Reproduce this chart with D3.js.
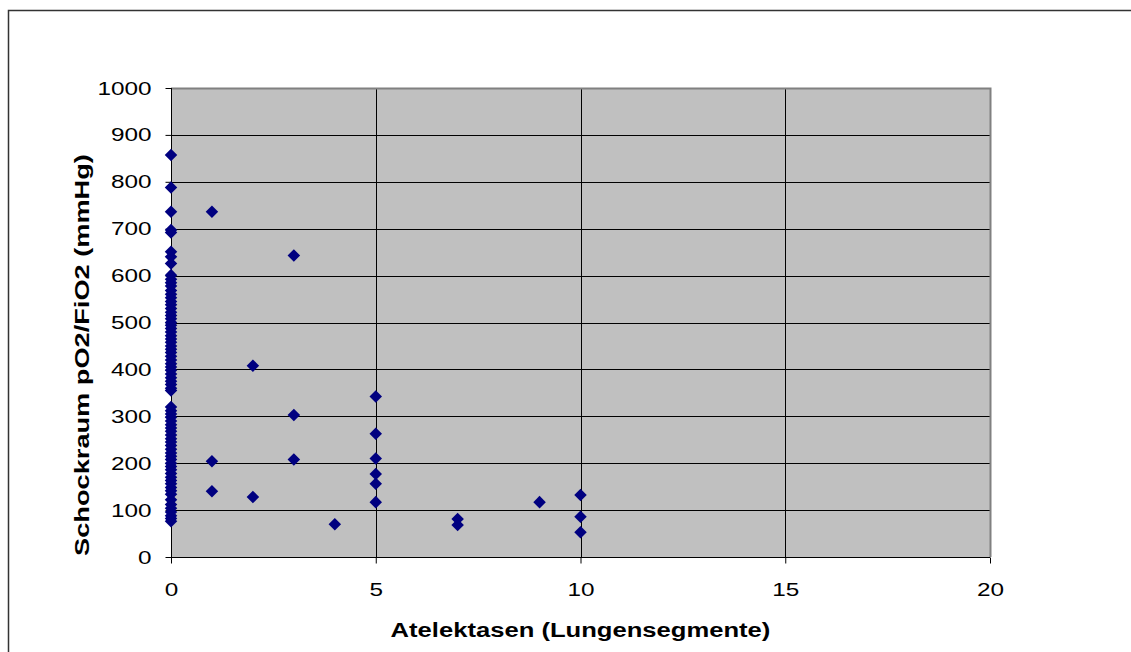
<!DOCTYPE html>
<html>
<head>
<meta charset="utf-8">
<script src="https://cdn.jsdelivr.net/npm/d3@7"></script>
<style>
  html, body { margin: 0; padding: 0; background: #fff; }
  svg { display: block; }
  svg text { font-family: "Liberation Sans", Arial, sans-serif; fill: #000; }
</style>
</head>
<body>
<svg id="chart" width="1131" height="652"></svg>
<script>
// Atelectasis (number of lung segments) per patient
const segments = [
  0,0,0,0,0,0,0,0,0,0,0,0,0,0,0,0,0,0,0,0,
  0,0,0,0,0,0,0,0,0,0,0,0,0,0,0,0,0,0,0,0,
  0,0,0,0,0,0,0,0,0,0,0,0,0,0,0,0,0,0,0,0,
  0,0,0,0,0,0,0,0,0,0,0,0,0,0,0,
  1,1,1,
  2,2,
  3,3,3,
  4,
  5,5,5,5,5,5,
  7,7,
  9,
  10,10,10
];
// Shock-room pO2/FiO2 ratio (mmHg), same order as segments
const ratio = [
  857,788,736,697,692,651,640,626,601,592,585,578,568,560,553,545,538,530,522,515,
  508,500,494,487,480,472,465,458,450,443,436,428,420,412,405,398,390,382,375,368,
  360,355,320,312,305,298,290,282,275,268,260,252,245,238,230,222,215,208,200,193,
  186,178,170,163,156,148,141,134,122,112,104,96,88,82,76,
  736,204,140,
  408,128,
  643,303,208,
  70,
  342,263,210,177,156,117,
  81,68,
  117,
  132,86,53
];
const xTicks = [0, 5, 10, 15, 20];
const yTicks = [0, 100, 200, 300, 400, 500, 600, 700, 800, 900, 1000];

const svg = d3.select("#chart");
const plot = { left: 171, right: 990, top: 88, bottom: 557 };
const stretch = 1.28; // wide lettering

// outer chart frame
svg.append("rect")
  .attr("x", 8.5).attr("y", 10.5)
  .attr("width", 1140).attr("height", 700)
  .attr("fill", "#fff").attr("stroke", "#333").attr("stroke-width", 1.5);

const x = d3.scaleLinear().domain([0, 20]).range([plot.left, plot.right]);
const y = d3.scaleLinear().domain([0, 1000]).range([plot.bottom, plot.top]);

// plot area background
svg.append("rect")
  .attr("x", plot.left).attr("y", plot.top)
  .attr("width", plot.right - plot.left).attr("height", plot.bottom - plot.top)
  .attr("fill", "#c0c0c0");

// grid lines
svg.append("g").selectAll("line").data(yTicks.filter(d => d > 0 && d < 1000)).join("line")
  .attr("x1", plot.left).attr("x2", plot.right)
  .attr("y1", d => Math.round(y(d)) + 0.5).attr("y2", d => Math.round(y(d)) + 0.5)
  .attr("stroke", "#000").attr("stroke-width", 1);
svg.append("g").selectAll("line").data(xTicks.filter(d => d > 0 && d < 20)).join("line")
  .attr("y1", plot.top).attr("y2", plot.bottom)
  .attr("x1", d => Math.round(x(d)) + 0.5).attr("x2", d => Math.round(x(d)) + 0.5)
  .attr("stroke", "#000").attr("stroke-width", 1);

// plot area border (top/right gray)
svg.append("path")
  .attr("d", `M${plot.left},${plot.top + 0.5}H${plot.right + 0.5}V${plot.bottom}`)
  .attr("fill", "none").attr("stroke", "#808080").attr("stroke-width", 2);

// axes
const yAxis = d3.axisLeft(y).tickValues(yTicks).tickFormat(d3.format("d")).tickSize(6).tickPadding(14);
const gy = svg.append("g").attr("transform", `translate(${plot.left + 0.5},0)`).call(yAxis);
const xAxis = d3.axisBottom(x).tickValues(xTicks).tickFormat(d3.format("d")).tickSize(6).tickPadding(19);
const gx = svg.append("g").attr("transform", `translate(0,${plot.bottom + 0.5})`).call(xAxis);
[gy, gx].forEach(g => {
  g.attr("font-family", null).attr("font-size", null);
  g.select(".domain").attr("stroke", "#000").attr("stroke-width", 1);
  g.selectAll(".tick line").attr("stroke", "#000");
  g.selectAll(".tick text").attr("fill", "#000").style("font-size", "19px");
});
gx.select(".domain").attr("d", `M${plot.left},0H${plot.right}`);
gy.select(".domain").attr("d", `M0,${plot.top}V${plot.bottom}`);

// widen tick labels about their own anchor point
function widenTicks(sel, k) {
  sel.each(function () {
    const t = d3.select(this);
    const tx = +t.attr("x") || 0, ty = +t.attr("y") || 0;
    t.attr("x", 0).attr("y", 0).attr("transform", `translate(${tx},${ty}) scale(${k},1)`);
  });
}
widenTicks(gy.selectAll(".tick text"), stretch);
widenTicks(gx.selectAll(".tick text"), stretch);

// axis titles
svg.append("text")
  .attr("transform", `translate(${(plot.left + plot.right) / 2},637) scale(${stretch},1)`)
  .attr("text-anchor", "middle")
  .style("font-size", "20px").style("font-weight", "bold")
  .text("Atelektasen (Lungensegmente)");
svg.append("text")
  .attr("transform", `translate(89,355) rotate(-90) scale(1.36,1)`)
  .attr("text-anchor", "middle")
  .style("font-size", "20px").style("font-weight", "bold")
  .text("Schockraum pO2/FiO2 (mmHg)");

// data points as diamonds
const diamond = d3.symbol().type(d3.symbolDiamond2).size(100);
svg.append("g").selectAll("path").data(segments.map((s, i) => ({ s, v: ratio[i] }))).join("path")
  .attr("transform", d => `translate(${x(d.s)},${y(d.v)})`)
  .attr("d", diamond)
  .attr("fill", "#000080");
</script>
</body>
</html>
